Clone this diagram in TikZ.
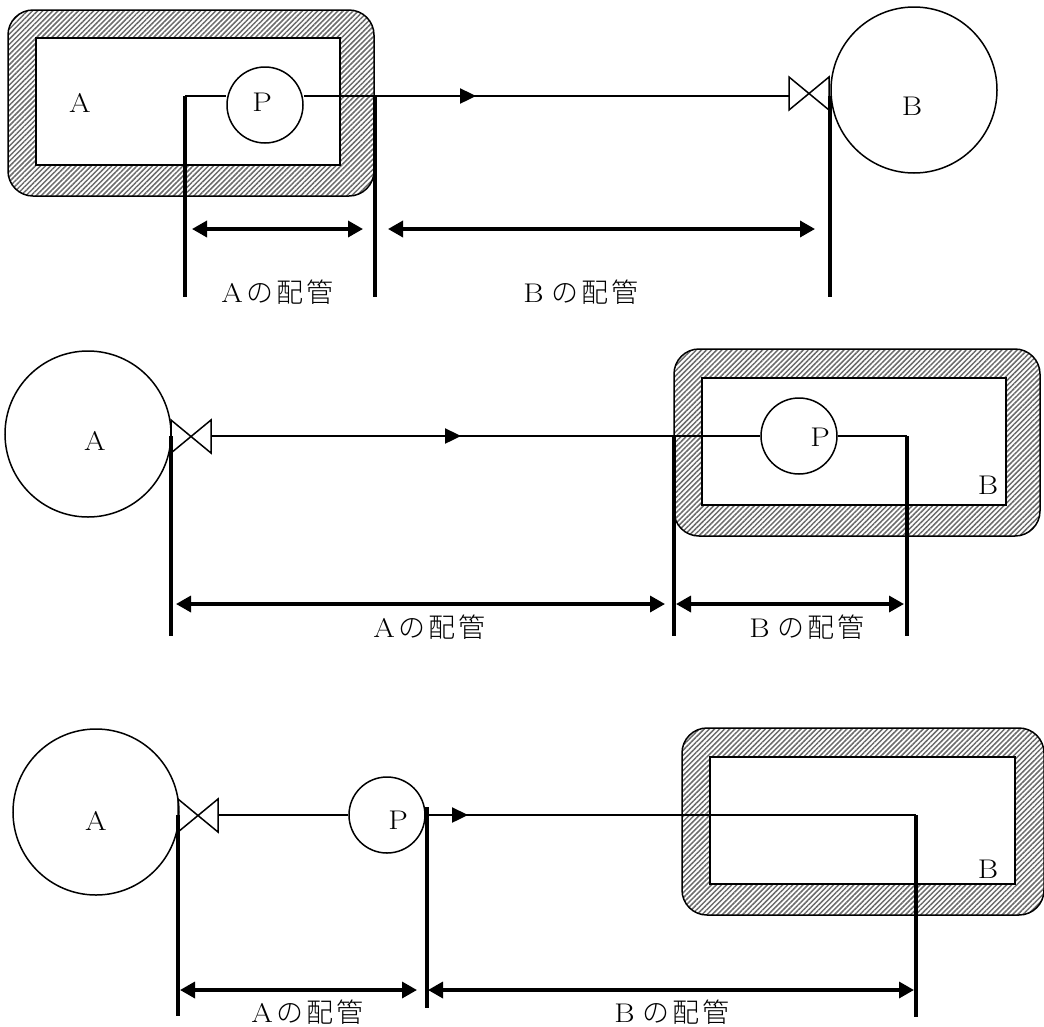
\documentclass[tikz,border=0pt]{standalone}
\usepackage{fontspec}
\usetikzlibrary{arrows.meta,patterns.meta}
\newfontfamily\jpfont{Noto Sans CJK JP Light}[LetterSpace=11]
\newfontfamily\latwide{Latin Modern Roman}[FakeStretch=1.15]
\tikzset{
  pipe/.style={line width=1.4pt,black},
  flow/.style={line width=2.4pt,black,-{Triangle[length=16pt,width=15pt]}},
  leader/.style={line width=3.4pt,black},
  dim/.style={line width=3.4pt,black,{Triangle[length=15pt,width=16pt]}-{Triangle[length=15pt,width=16pt]}},
  tank/.style={circle,draw,line width=1.5pt,minimum size=166pt,inner sep=0pt,fill=white},
  pump/.style={circle,draw,line width=1.5pt,minimum size=76pt,inner sep=0pt,fill=white},
  valveshape/.style={line width=1.5pt,line join=miter},
  lagging/.style={draw,line width=1.5pt,rounded corners=25pt,pattern={Lines[angle=45,distance=3.6pt,line width=1.5pt]},pattern color=black!58},
  vessel/.style={draw,line width=1.8pt,fill=white},
  lbl/.style={inner sep=0pt,font=\fontsize{27}{27}\selectfont\latwide},
  captext/.style={inner sep=0pt,font=\fontsize{27}{27}\selectfont\latwide}
}
\newcommand{\haikan}[1]{#1\hspace{4pt}{\jpfont の配管}}
\newcommand{\haikanB}[1]{#1\hspace{8pt}{\jpfont の配管}}
\begin{document}
\begin{tikzpicture}[x=1pt,y=-1pt]
\useasboundingbox (0,0) rectangle (1044,1026);
% ---------- top panel
\path[lagging] (8,10) rectangle (374,196);
\path[vessel] (36,38) rectangle (340,165);
\coordinate (a1) at (185,96);
\coordinate (a2) at (375,96);
\coordinate (a3) at (830,96);
\coordinate (a1e) at (185,297);
\coordinate (a2e) at (375,297);
\coordinate (a3e) at (830,297);
\node[pump] (p1) at (265,105) {};
\node[tank] (t1) at (914,90) {};
\coordinate (v1l) at (789,96);
\coordinate (v1s) at (385,96);
\coordinate (v1m) at (476,96);
\draw[pipe] (a1) -- (a1 -| p1.west);
\draw[pipe] (p1.east |- a1) -- (a2);
\draw[pipe] (a2) -- (v1l);
\draw[flow] (v1s) -- (v1m);
\draw[valveshape] (789,77) -- (789,110) -- (829,77) -- (829,110) -- cycle;
\draw[leader] (a1) -- (a1e);
\draw[leader] (a2) -- (a2e);
\draw[leader] (a3) -- (a3e);
\coordinate (d1a) at (192,229); \coordinate (d1b) at (363,229);
\coordinate (d1c) at (388,229); \coordinate (d1d) at (815,229);
\draw[dim] (d1a) -- (d1b);
\draw[dim] (d1c) -- (d1d);
\node[lbl] (la1) at (80,103) {A};
\node[lbl] (lp1) at (262,102) {P};
\node[lbl] (lb1) at (912,106) {B};
\node[captext] (c1a) at (277.5,292) {\haikan{A}};
\node[captext] (c1b) at (581,292) {\haikanB{B}};
% ---------- middle panel
\path[lagging] (674,349) rectangle (1040,536);
\path[vessel] (702,378) rectangle (1006,505);
\coordinate (b1) at (171,436);
\coordinate (b2) at (674,436);
\coordinate (b3) at (907,436);
\coordinate (b1e) at (171,636);
\coordinate (b2e) at (674,636);
\coordinate (b3e) at (907,636);
\node[tank] (t2) at (88,434) {};
\node[pump] (p2) at (799,436) {};
\coordinate (v2r) at (211,436);
\coordinate (v2s) at (373,436);
\coordinate (v2m) at (461,436);
\draw[pipe] (v2r) -- (p2.west);
\draw[pipe] (p2.east) -- (b3);
\draw[flow] (v2s) -- (v2m);
\draw[valveshape] (171,420) -- (171,453) -- (211,420) -- (211,453) -- cycle;
\draw[leader] (b1) -- (b1e);
\draw[leader] (b2) -- (b2e);
\draw[leader] (b3) -- (b3e);
\coordinate (d2a) at (176,604); \coordinate (d2b) at (665,604);
\coordinate (d2c) at (676,604); \coordinate (d2d) at (904,604);
\draw[dim] (d2a) -- (d2b);
\draw[dim] (d2c) -- (d2d);
\node[lbl] (la2) at (95,441) {A};
\node[lbl] (lp2) at (820,437) {P};
\node[lbl] (lb2) at (988,485) {B};
\node[captext] (c2a) at (429.5,627) {\haikan{A}};
\node[captext] (c2b) at (807,627) {\haikanB{B}};
% ---------- bottom panel
\path[lagging] (682,728) rectangle (1044,915);
\path[vessel] (710,757) rectangle (1015,884);
\coordinate (c1) at (178,815);
\coordinate (c2) at (427,807);
\coordinate (c3) at (916,815);
\coordinate (c1e) at (178,1016);
\coordinate (c2e) at (427,1008);
\coordinate (c3e) at (916,1017);
\node[tank] (t3) at (96,812) {};
\node[pump] (p3) at (387,815) {};
\coordinate (v3r) at (218,815);
\coordinate (v3s) at (428,815);
\coordinate (v3m) at (468,815);
\draw[pipe] (v3r) -- (p3.west);
\draw[pipe] (p3.east) -- (c3);
\draw[flow] (v3s) -- (v3m);
\draw[valveshape] (178,799) -- (178,832) -- (218,799) -- (218,832) -- cycle;
\draw[leader] (c1) -- (c1e);
\draw[leader] (c2) -- (c2e);
\draw[leader] (c3) -- (c3e);
\coordinate (d3a) at (180,990); \coordinate (d3b) at (417,990);
\coordinate (d3c) at (428,990); \coordinate (d3d) at (914,990);
\draw[dim] (d3a) -- (d3b);
\draw[dim] (d3c) -- (d3d);
\node[lbl] (la3) at (96,821) {A};
\node[lbl] (lp3) at (398,820) {P};
\node[lbl] (lb3) at (988,869) {B};
\node[captext] (c3a) at (307.5,1012) {\haikan{A}};
\node[captext] (c3b) at (672,1012) {\haikanB{B}};
\end{tikzpicture}
\end{document}
